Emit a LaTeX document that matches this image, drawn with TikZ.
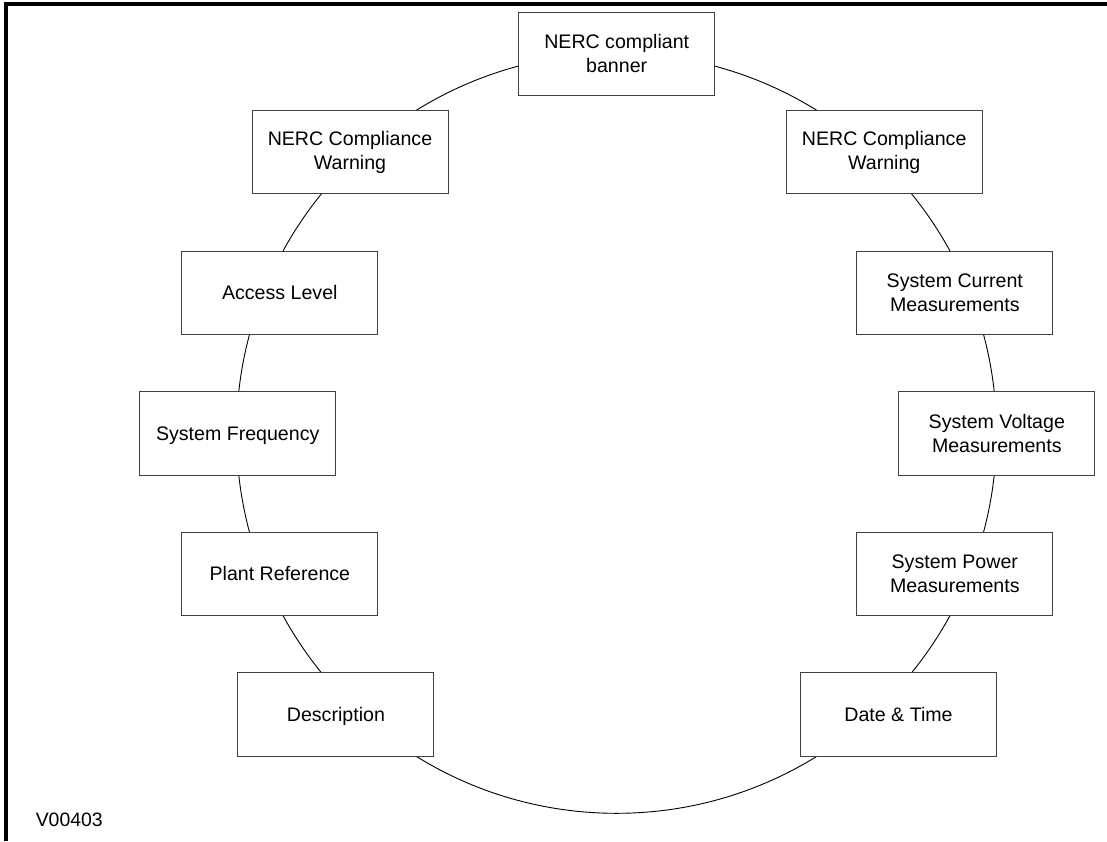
\documentclass[tikz,border=0pt]{standalone}
\usepackage{fontspec}
\setmainfont{Liberation Sans}
\begin{document}
\begin{tikzpicture}[x=1pt,y=-1pt,
  stepbox/.style={draw=black!75,line width=1pt,fill=white,minimum width=196pt,minimum height=83.5pt,
    inner sep=0pt,align=center,font=\fontsize{19.6}{24}\selectfont},
  onebox/.style={stepbox,text height=14pt,text depth=0pt},
  ring/.style={draw=black,line width=0.9pt},
  frameline/.style={draw=black,line width=4pt}]
\useasboundingbox (0,0) rectangle (1107,841);
% frame: top and left edges only
\coordinate (fTL) at (6,4);
\coordinate (fTR) at (1107,4);
\coordinate (fBL) at (6,841);
\draw[frameline] (fTR) -- (fTL) -- (fBL);
% ring linking the boxes
\coordinate (ctr) at (616.5,433.3);
\draw[ring] (ctr) circle[radius=380pt];
% boxes
\node[stepbox] (banner) at (616.7,53.9) {NERC compliant\\banner};
\node[stepbox] (lwarn) at (350,152.2) {NERC Compliance\\Warning};
\node[stepbox] (rwarn) at (884.2,152.2) {NERC Compliance\\Warning};
\node[onebox] (access) at (279.8,292.9) {Access Level};
\node[stepbox] (current) at (954.8,292.9) {System Current\\Measurements};
\node[onebox] (freq) at (237.7,433.3) {System Frequency};
\node[stepbox] (voltage) at (996.8,433.3) {System Voltage\\Measurements};
\node[onebox] (plant) at (279.9,573.9) {Plant Reference};
\node[stepbox] (power) at (954.8,573.9) {System Power\\Measurements};
\node[onebox] (desc) at (335.9,714.5) {Description};
\node[onebox] (date) at (898.5,714.5) {Date \& Time};
% figure code
\node[anchor=base west,inner sep=0pt,font=\fontsize{19.4}{24}\selectfont] (code) at (35.6,826) {V00403};
\end{tikzpicture}
\end{document}
